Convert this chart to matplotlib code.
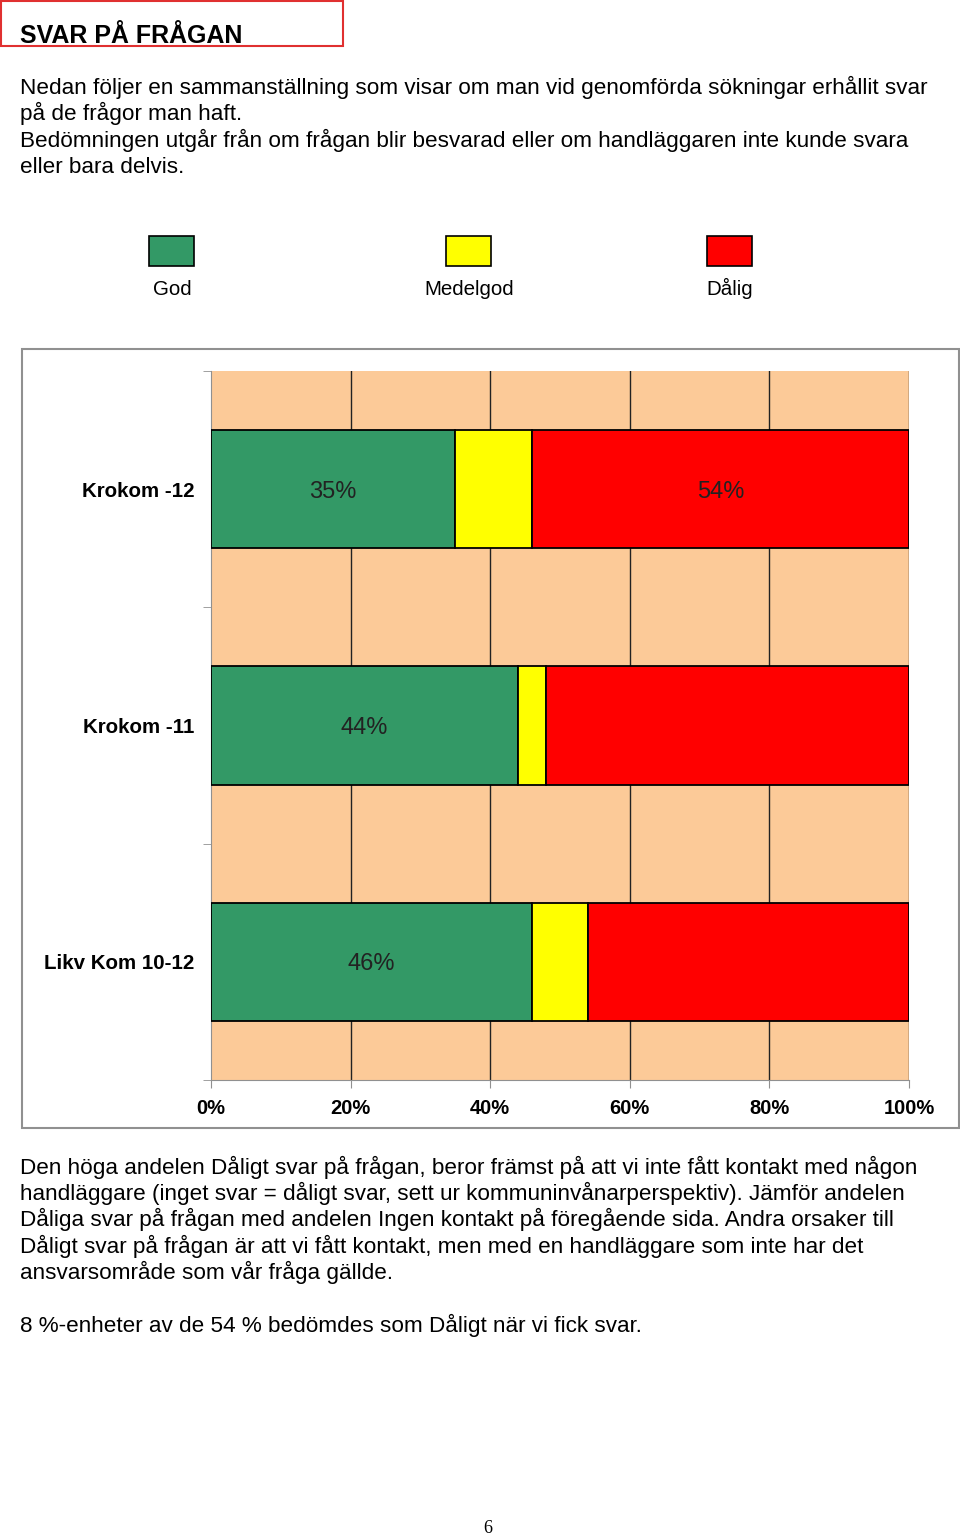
import numpy as np
import matplotlib.pyplot as plt
from matplotlib.patches import Rectangle

# data
categories = ["Krokom -12", "Krokom -11", "Likv Kom 10-12"]
series_names = ["God", "Medelgod", "Dålig"]
god = [35, 44, 46]
medelgod = [11, 4, 8]
dalig = [54, 52, 46]
god_labels = ["35%", "44%", "46%"]
dalig_labels = ["54%", "", ""]
xticks = [0, 20, 40, 60, 80, 100]
xtick_labels = ["0%", "20%", "40%", "60%", "80%", "100%"]

colors = ["#339966", "#FFFF00", "#FF0000"]
peach = "#FCCA98"

W, H = 960, 1535
fig = plt.figure(figsize=(W / 100, H / 100), dpi=100)
plt.rcParams['font.family'] = ['Liberation Sans', 'DejaVu Sans']


def fx(x):
    return x / W


def fy(y):
    return 1 - y / H


def ptext(x, y, s, **kw):
    fig.text(fx(x), fy(y), s, **kw)


# header
fig.patches.append(Rectangle((fx(1), fy(46)), fx(342), 45 / H, transform=fig.transFigure,
                             fill=False, edgecolor="#E03030", lw=1.5))
ptext(20, 43, "SVAR PÅ FRÅGAN", fontsize=18, fontweight="bold", va="baseline")

intro = ["Nedan följer en sammanställning som visar om man vid genomförda sökningar erhållit svar",
         "på de frågor man haft.",
         "Bedömningen utgår från om frågan blir besvarad eller om handläggaren inte kunde svara",
         "eller bara delvis."]
for i, line in enumerate(intro):
    ptext(20, 94 + i * 26.3, line, fontsize=16.2, va="baseline")

# legend
leg_x = [149, 446, 707]
for lx, c, name in zip(leg_x, colors, series_names):
    fig.patches.append(Rectangle((fx(lx), fy(266)), fx(45), 30 / H, transform=fig.transFigure,
                                 facecolor=c, edgecolor="black", lw=1.2))
    ptext(lx + 23, 295, name, fontsize=14.8, ha="center", va="baseline")

# chart frame
fig.patches.append(Rectangle((fx(22), fy(1128)), fx(937), 779 / H, transform=fig.transFigure,
                             fill=False, edgecolor="#909090", lw=1.5))

ax = fig.add_axes([fx(211), fy(1080), fx(698), 709 / H])
ax.set_facecolor(peach)
y = np.arange(len(categories))
left = np.zeros(len(categories))
for vals, c in zip([god, medelgod, dalig], colors):
    ax.barh(y, vals, left=left, height=0.5, color=c, edgecolor="black", lw=1.3, zorder=3)
    left += np.array(vals)

for i in range(len(categories)):
    ax.text(god[i] / 2, y[i] + 0.01, god_labels[i], ha="center", va="center",
            fontsize=17, color="#222222", zorder=4)
    if dalig_labels[i]:
        ax.text(god[i] + medelgod[i] + dalig[i] / 2, y[i] + 0.01, dalig_labels[i], ha="center",
                va="center", fontsize=17, color="#222222", zorder=4)

for xv in xticks[1:]:
    ax.axvline(xv, color="#222222", lw=1, zorder=1)

ax.set_xlim(0, 100)
ax.set_ylim(len(categories) - 0.5, -0.5)
ax.set_xticks(xticks)
ax.set_xticklabels(xtick_labels, fontsize=14.5, fontweight="bold",
                   family=["Liberation Sans Narrow", "Liberation Sans"])
ax.set_yticks(y)
ax.set_yticklabels(categories, fontsize=14.8, fontweight="bold")
ax.set_yticks(np.arange(len(categories) + 1) - 0.5, minor=True)
ax.tick_params(axis="y", which="major", length=0, pad=12)
ax.tick_params(axis="y", which="minor", length=6, color="#909090", direction="out")
ax.tick_params(axis="x", length=6, color="#909090", direction="out", pad=8)
for s in ["top", "right"]:
    ax.spines[s].set_visible(False)
for s in ["left", "bottom"]:
    ax.spines[s].set_color("#909090")

# text below chart
outro = ["Den höga andelen Dåligt svar på frågan, beror främst på att vi inte fått kontakt med någon",
         "handläggare (inget svar = dåligt svar, sett ur kommuninvånarperspektiv). Jämför andelen",
         "Dåliga svar på frågan med andelen Ingen kontakt på föregående sida. Andra orsaker till",
         "Dåligt svar på frågan är att vi fått kontakt, men med en handläggare som inte har det",
         "ansvarsområde som vår fråga gällde."]
for i, line in enumerate(outro):
    ptext(20, 1174 + i * 26.2, line, fontsize=16.2, va="baseline")
ptext(20, 1332, "8 %-enheter av de 54 % bedömdes som Dåligt när vi fick svar.", fontsize=16.2,
      va="baseline")

ptext(488, 1533, "6", fontsize=13, ha="center", va="baseline", family="Liberation Serif")

fig.savefig("out.png", dpi=100)
